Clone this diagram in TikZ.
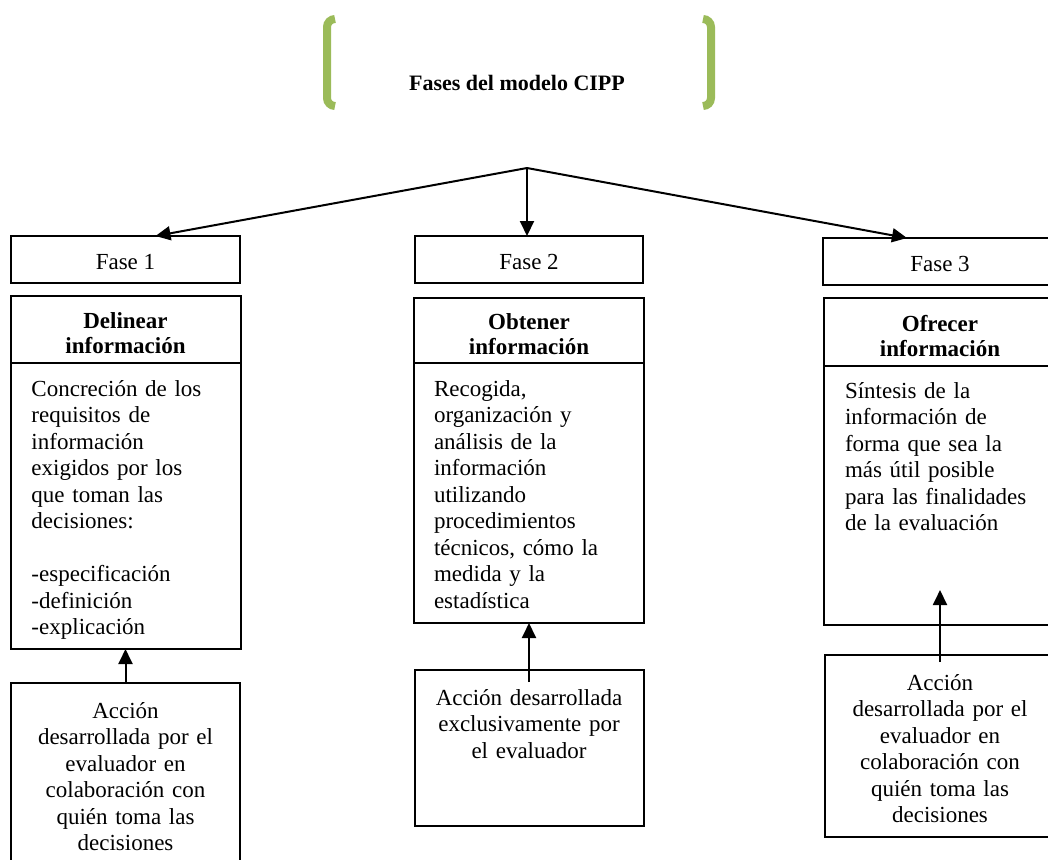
\documentclass[tikz,border=0pt]{standalone}
\usepackage{fontspec}
\setmainfont{Liberation Serif}
\usepackage{tikz}
\usetikzlibrary{arrows.meta,positioning}
\definecolor{cippgreen}{HTML}{9BBB59}

\begin{document}
\begin{tikzpicture}[x=0.5pt,y=-0.5pt,
  every node/.style={inner sep=0pt,outer sep=0pt,font=\fontsize{11.5}{13.25}\selectfont},
  fase/.style={draw,line width=1pt,minimum height=23.5pt},
  head/.style={draw,line width=1pt,align=center,text width=110pt,
    font=\fontsize{11.5}{12.5}\selectfont\bfseries,execute at begin node=\rule{0pt}{12pt}},
  body/.style={draw,line width=1pt},
  act/.style={draw,line width=1pt},
  txt/.style={align=left,text width=108pt,anchor=base west},
  acttxt/.style={align=center,text width=112pt,anchor=base},
  arr/.style={line width=1pt,-{Triangle[length=7.5pt,width=7pt]}},
  brk/.style={draw=cippgreen,line width=4pt,rounded corners=4pt}]
\useasboundingbox (0,0) rectangle (1048,859);
\clip (0,0) rectangle (1048,859);

\node[minimum width=192pt,minimum height=43.5pt] (frame) at (519,62.5) {};
\draw[brk] ([xshift=4pt]frame.north west) -- (frame.north west) -- (frame.south west) -- ([xshift=4pt]frame.south west);
\draw[brk] ([xshift=-4pt]frame.north east) -- (frame.north east) -- (frame.south east) -- ([xshift=-4pt]frame.south east);
\node[font=\fontsize{11}{13.25}\selectfont\bfseries] (title) at (517,83) {Fases del modelo CIPP};

\coordinate (top) at (527,168);
\node[fase,minimum width=114.5pt] (f1) at (125.5,259.5) {\rule{0pt}{10pt}Fase 1};
\node[fase,minimum width=114pt] (f2) at (529,259.5) {\rule{0pt}{10pt}Fase 2};
\node[fase,minimum width=117pt] (f3) at (940,261.5) {\rule{0pt}{10pt}Fase 3};

\node[head,minimum width=115pt,minimum height=33.5pt,below=6.5pt of f1] (h1) {Delinear\\información};
\node[body,minimum width=115pt,minimum height=143pt,below=0pt of h1] (b1) {};
\node[act,minimum width=114.5pt,minimum height=100pt,below=17pt of b1] (l1) {};
\node[txt] (d1) at ([xshift=10.5pt,yshift=-16.5pt]b1.north west) {Concreción de los\\requisitos de\\información\\exigidos por los\\que toman las\\decisiones:\\[13.25pt]-especificación\\-definición\\-explicación};

\node[head,minimum width=115pt,minimum height=32.5pt,below=7.5pt of f2] (h2) {Obtener\\información};
\node[body,minimum width=115pt,minimum height=130pt,below=0pt of h2] (b2) {};
\node[act,minimum width=114.5pt,minimum height=78pt,below=23.5pt of b2] (l2) {};
\node[txt] (d2) at ([xshift=10pt,yshift=-16.5pt]b2.north west) {Recogida,\\organización y\\análisis de la\\información\\utilizando\\procedimientos\\técnicos, cómo la\\medida y la\\estadística};

\node[head,minimum width=116pt,minimum height=34pt,below=6.5pt of f3] (h3) {Ofrecer\\información};
\node[body,minimum width=116pt,minimum height=129.5pt,below=0pt of h3] (b3) {};
\node[act,minimum width=115pt,minimum height=91pt,below=15pt of b3] (l3) {};
\node[txt] (d3) at ([xshift=10.5pt,yshift=-16pt]b3.north west) {Síntesis de la\\información de\\forma que sea la\\más útil posible\\para las finalidades\\de la evaluación};

\node[acttxt] (a1) at ([yshift=-17.5pt]l1.north) {Acción\\desarrollada por el\\evaluador en\\colaboración con\\quién toma las\\decisiones};
\node[acttxt] (a2) at ([yshift=-17.5pt]l2.north) {Acción desarrollada\\exclusivamente por\\el evaluador};
\node[acttxt] (a3) at ([yshift=-17.5pt]l3.north) {Acción\\desarrollada por el\\evaluador en\\colaboración con\\quién toma las\\decisiones};

\draw[arr] (top) -- ([xshift=15pt]f1.north);
\draw[arr] (top) -- (top |- f2.north);
\draw[arr] (top) -- ([xshift=-16.5pt]f3.north);
\draw[arr] (l1.north) -- (b1.south);
\draw[arr] ([yshift=-6pt]l2.north) -- (b2.south);
\draw[arr] ([yshift=-3.5pt]l3.north) -- ([yshift=17.5pt]b3.south);
\end{tikzpicture}
\end{document}
